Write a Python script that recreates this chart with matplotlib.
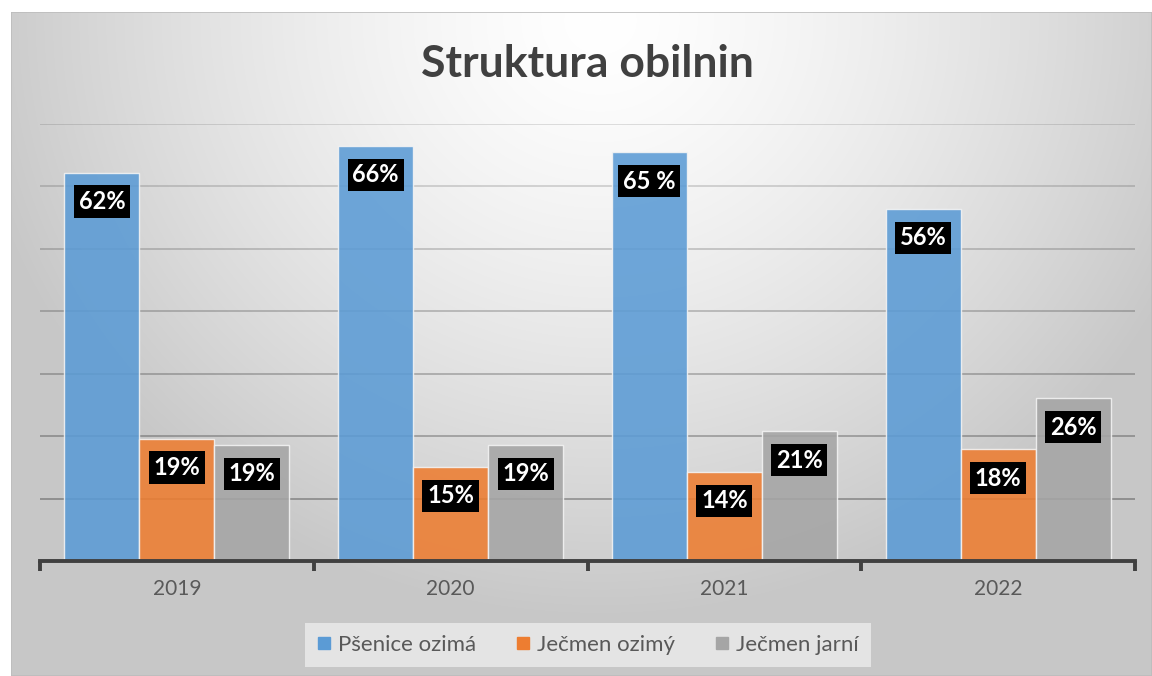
import numpy as np
import matplotlib.pyplot as plt
from matplotlib.patches import Rectangle
from matplotlib.lines import Line2D

years = ["2019", "2020", "2021", "2022"]
series = ["Pšenice ozimá", "Ječmen ozimý", "Ječmen jarní"]
psenice = [62.2, 66.5, 65.5, 56.4]
jecmen_ozimy = [19.6, 15.1, 14.3, 17.9]
jecmen_jarni = [18.6, 18.6, 20.8, 26.1]
labels_psenice = ["62%", "66%", "65 %", "56%"]
labels_ozimy = ["19%", "15%", "14%", "18%"]
labels_jarni = ["19%", "19%", "21%", "26%"]
colors = ["#5b9bd5", "#ed7d31", "#a5a5a5"]

W, H = 1152, 676
fig = plt.figure(figsize=(W / 100, H / 100), dpi=100)
fig.patch.set_facecolor("white")

# fondo con degradado radial (area del grafico)
bg = fig.add_axes([11 / W, 0, (W - 11) / W, (H - 12) / H])
bg.set_axis_off()
xx, yy = np.meshgrid(np.arange(11, W), np.arange(12, H))
r = np.sqrt(((xx - 600) / 640.0) ** 2 + ((yy - 20) / 600.0) ** 2)
r = np.clip(r, 0, 1)
shade = 255 - 56 * r ** 1.4
img = np.dstack([shade, shade, shade]) / 255.0
bg.imshow(img, aspect="auto", extent=[0, 1, 0, 1], interpolation="bilinear")
bg.add_patch(Rectangle((0, 0), 1, 1, transform=bg.transAxes, fill=False,
                       edgecolor="#bdbdbd", lw=1.2))

ax = fig.add_axes([40 / W, (H - 561) / H, 1095 / W, (561 - 124) / H])
ax.patch.set_alpha(0)
ax.set_xlim(-0.5, 3.5)
ax.set_ylim(0, 70)

# lineas de cuadricula (mas oscuras abajo)
for v in range(10, 80, 10):
    a = 0.30 - 0.17 * (v - 10) / 60
    ax.axhline(v, color="black", alpha=a, lw=1.3, zorder=1)

x = np.arange(len(years))
w = 0.274
all_vals = [psenice, jecmen_ozimy, jecmen_jarni]
all_labels = [labels_psenice, labels_ozimy, labels_jarni]
for i, (vals, labs) in enumerate(zip(all_vals, all_labels)):
    pos = x + (i - 1) * w
    ax.bar(pos, vals, width=w, color=colors[i], alpha=0.88,
           edgecolor="#f4f4f4", linewidth=1.0, zorder=2)
    for px, v, lab in zip(pos, vals, labs):
        ax.annotate(lab, (px, v), xytext=(0, -29), textcoords="offset pixels",
                    ha="center", va="center", color="white", fontsize=17,
                    fontweight="bold", family="Lato", zorder=5,
                    bbox=dict(boxstyle="square,pad=0.2", fc="black", ec="none"))

for s in ["top", "right", "left"]:
    ax.spines[s].set_visible(False)
ax.spines["bottom"].set_color("#404040")
ax.spines["bottom"].set_linewidth(2.8)
ax.set_yticks([])
ax.set_xticks(x)
ax.set_xticklabels(years, fontsize=15, color="#595959", family="Lato")
ax.tick_params(axis="x", which="major", length=0, pad=13)
ax.set_xticks(np.arange(-0.5, 4, 1), minor=True)
ax.tick_params(axis="x", which="minor", length=7, width=2.8, color="#404040")

fig.text(587 / W, 1 - 64 / H, "Struktura obilnin", ha="center", va="center",
         fontsize=32, fontweight="bold", color="#404040", family="Lato")

handles = [Line2D([], [], marker="s", ls="none", markersize=8, color=c) for c in colors]
leg = fig.legend(handles, series, loc="center", bbox_to_anchor=(588 / W, 31 / H),
                 ncol=3, frameon=True, fancybox=False,
                 handlelength=0.6, handletextpad=0.35, columnspacing=1.8,
                 borderpad=0.55, borderaxespad=0,
                 prop={"family": "Lato", "size": 16})
leg.get_frame().set_facecolor("#e4e4e4")
leg.get_frame().set_edgecolor("none")
leg.get_frame().set_alpha(1)
for t in leg.get_texts():
    t.set_color("#595959")

fig.savefig("out.png", dpi=100)
